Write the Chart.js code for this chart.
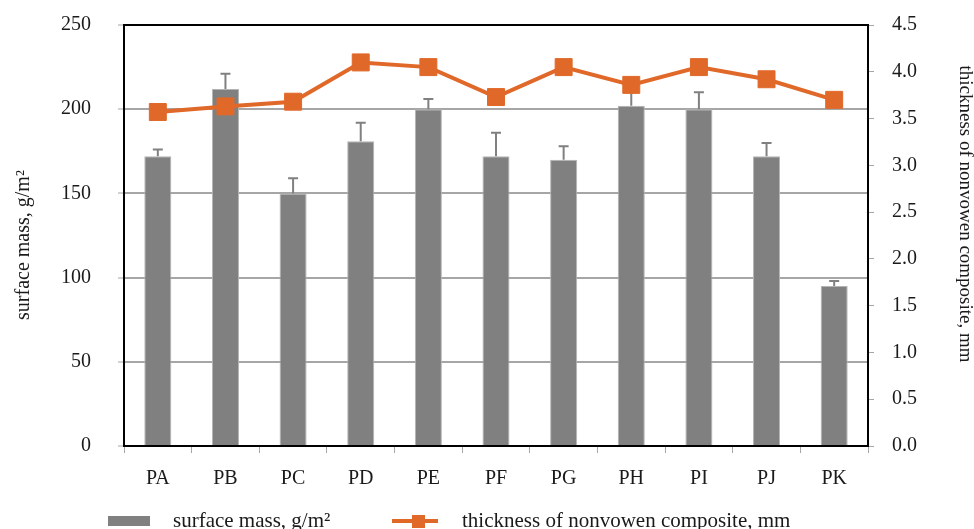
<!DOCTYPE html>
<html>
<head>
<meta charset="utf-8">
<script src="https://cdn.jsdelivr.net/npm/chart.js@4.4.1/dist/chart.umd.min.js"></script>
<style>
  html, body { margin: 0; padding: 0; background: #fff; }
</style>
</head>
<body>
<canvas id="myChart" width="974" height="529"></canvas>
<script>
const labels = ['PA', 'PB', 'PC', 'PD', 'PE', 'PF', 'PG', 'PH', 'PI', 'PJ', 'PK'];
const surfaceMass = [172, 212, 150, 181, 200, 172, 170, 202, 200, 172, 95];
const surfaceMassErr = [4, 9, 9, 11, 6, 14, 8, 8, 10, 8, 3];
const thickness = [3.57, 3.63, 3.68, 4.10, 4.05, 3.73, 4.05, 3.86, 4.05, 3.92, 3.70];

const massTitle = 'surface mass, g/m\u00B2';
const thickTitle = 'thickness of nonvowen composite, mm';

const serif = '"Liberation Serif", "Times New Roman", serif';
const font = { family: serif, size: 20 };
const textColor = '#1a1a1a';
const barColor = '#808080';
const lineColor = '#E0692A';
const gridColor = '#a6a6a6';

// error bars drawn right after the bar dataset, so the line sits on top
const errorBars = {
  id: 'errorBars',
  afterDatasetDraw(chart, args) {
    if (args.index !== 0) return;
    const y = chart.scales.y;
    const c = chart.ctx;
    c.save();
    c.strokeStyle = barColor;
    c.lineWidth = 2;
    args.meta.data.forEach((bar, i) => {
      const top = y.getPixelForValue(surfaceMass[i] + surfaceMassErr[i]);
      c.beginPath();
      c.moveTo(bar.x, bar.y);
      c.lineTo(bar.x, top);
      c.moveTo(bar.x - 5, top);
      c.lineTo(bar.x + 5, top);
      c.stroke();
    });
    c.restore();
  }
};

// frame, axis titles and the legend under the axis
const extras = {
  id: 'extras',
  afterDraw(chart) {
    const c = chart.ctx;
    const a = chart.chartArea;
    c.save();
    c.strokeStyle = '#000';
    c.lineWidth = 2;
    c.beginPath();
    c.moveTo(a.left - 1, a.top);
    c.lineTo(a.right + 1, a.top);
    c.stroke();

    c.fillStyle = textColor;
    c.textAlign = 'center';
    c.textBaseline = 'middle';
    c.font = '20px ' + serif;
    c.save();
    c.translate(24, 245);
    c.rotate(-Math.PI / 2);
    c.fillText(massTitle, 0, 0);
    c.restore();
    c.font = '19px ' + serif;
    c.save();
    c.translate(965, 214);
    c.rotate(Math.PI / 2);
    c.fillText(thickTitle, 0, 0);
    c.restore();

    // legend
    const ly = 521;
    c.fillStyle = barColor;
    c.fillRect(108, ly - 5, 42, 10);
    c.strokeStyle = lineColor;
    c.lineWidth = 4;
    c.beginPath();
    c.moveTo(392, ly);
    c.lineTo(438, ly);
    c.stroke();
    c.fillStyle = lineColor;
    c.fillRect(412, ly - 6, 13, 13);
    c.fillStyle = textColor;
    c.textAlign = 'left';
    c.textBaseline = 'alphabetic';
    c.font = '21px ' + serif;
    c.fillText(massTitle, 173, 527);
    c.fillText(thickTitle, 462, 527);
    c.restore();
  }
};

const ctx = document.getElementById('myChart').getContext('2d');

new Chart(ctx, {
  type: 'bar',
  data: {
    labels: labels,
    datasets: [{
      type: 'bar',
      label: massTitle,
      data: surfaceMass,
      backgroundColor: barColor,
      borderColor: '#b4b4b4',
      borderWidth: 1,
      barPercentage: 0.4,
      categoryPercentage: 1.0,
      yAxisID: 'y',
      order: 2
    }, {
      type: 'line',
      label: thickTitle,
      data: thickness,
      borderColor: lineColor,
      backgroundColor: lineColor,
      borderWidth: 4,
      pointStyle: 'rect',
      pointRadius: 12,
      pointBorderWidth: 1,
      pointBackgroundColor: lineColor,
      pointBorderColor: lineColor,
      yAxisID: 'y1',
      order: 1
    }]
  },
  options: {
    responsive: false,
    animation: false,
    layout: { padding: { top: 25, left: 0, right: 0, bottom: 0 } },
    plugins: {
      legend: { display: false },
      tooltip: { enabled: false }
    },
    scales: {
      x: {
        grid: { offset: true, drawOnChartArea: false, tickLength: 7, tickColor: gridColor },
        border: { color: '#000', width: 2 },
        ticks: { font: font, color: textColor, padding: 14 },
        afterFit: s => { s.height = 83; }
      },
      y: {
        position: 'left',
        min: 0,
        max: 250,
        ticks: { stepSize: 50, font: font, color: textColor, padding: 27 },
        grid: {
          color: c => (c.tick && c.tick.value === 250 ? '#000' : gridColor),
          lineWidth: 2,
          tickLength: 6,
          tickColor: gridColor,
          tickWidth: 1
        },
        border: { color: '#000', width: 2 },
        afterFit: s => { s.width = 124; s.paddingTop = 0; s.paddingBottom = 0; }
      },
      y1: {
        position: 'right',
        min: 0,
        max: 4.5,
        ticks: { stepSize: 0.5, font: font, color: textColor, padding: 18, callback: v => v.toFixed(1) },
        grid: { drawOnChartArea: false, tickLength: 6, tickColor: gridColor },
        border: { color: '#000', width: 2 },
        afterFit: s => { s.width = 106; s.paddingTop = 0; s.paddingBottom = 0; }
      }
    }
  },
  plugins: [errorBars, extras]
});
</script>
</body>
</html>
